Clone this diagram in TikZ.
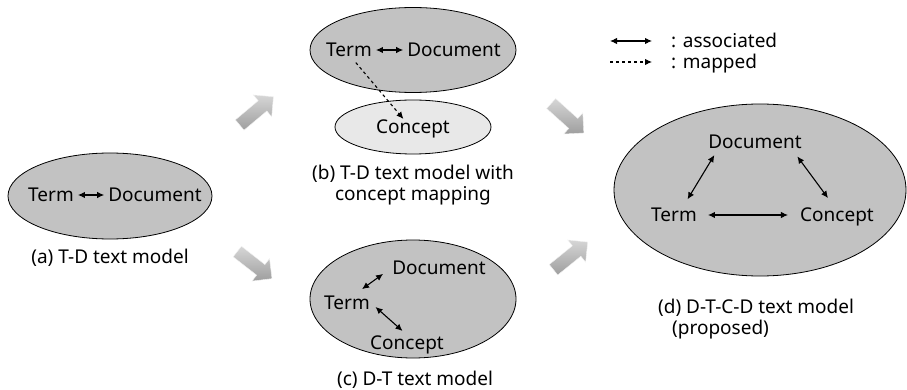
\documentclass[tikz,border=0pt]{standalone}
\usepackage{fontspec}
\setmainfont{Noto Sans}
\usepackage{tikz}
\usetikzlibrary{arrows.meta}
\usetikzlibrary{shapes}

\begin{document}
\begin{tikzpicture}[x=1pt,y=-1pt,>={Latex[length=7pt,width=6.5pt]},
                    font=\fontsize{19}{21}\selectfont]
\tikzstyle{model}=[draw,line width=0.8pt,ellipse,fill=black!24,inner sep=0pt]
\tikzstyle{word}=[inner sep=1pt,text depth=0pt]
\tikzstyle{caption}=[inner sep=0pt,align=center]
\tikzstyle{assoc}=[<->,line width=1.1pt]
\tikzstyle{mapped}=[->,line width=1.1pt,dashed]
\tikzstyle{flow}=[single arrow,single arrow head extend=7.5pt,
                  minimum height=44pt,inner xsep=0pt,inner ysep=6.5pt,
                  top color=black!16,bottom color=black!38,draw=black!5]
\useasboundingbox (0,0) rectangle (907,390);

% (a) T-D
\path
node[model,minimum width=204pt,minimum height=86pt] (TD) at (110,196) {}
(TD.center) ++ (-59,-1) node[word] (TDt) {Term}
(TD.center) ++ (45,-1) node[word] (TDd) {Document}
(TD.center) ++ (0,62) node[caption] (TDcap) {(a) T-D text model};

% (b) T-D with concept mapping
\path
node[model,minimum width=206pt,minimum height=85pt] (TDM) at (413,50) {}
(TDM.center) ++ (-64,0) node[word] (TDMt) {Term}
(TDM.center) ++ (41,0) node[word] (TDMd) {Document}
(TDM.center) ++ (0,77) node[model,fill=black!9,minimum width=156pt,
                            minimum height=54pt] (TDMc) {}
(TDMc.center) node[word] (TDMcc) {Concept}
(TDM.center) ++ (0,135) node[caption] (TDMcap)
     {(b) T-D text model with\\concept mapping};

% (c) D-T
\path
node[model,minimum width=206pt,minimum height=118pt] (DT) at (413,299) {}
(DT.center) ++ (26,-31) node[word] (DTd) {Document}
(DT.center) ++ (-66,4) node[word] (DTt) {Term}
(DT.center) ++ (-6,44) node[word] (DTc) {Concept}
(DT.center) ++ (2,81) node[caption] (DTcap) {(c) D-T text model};

% (d) D-T-C-D
\path
node[model,minimum width=292pt,minimum height=172pt] (DTCD) at (760,190) {}
(DTCD.center) ++ (-5,-48) node[word] (DTCDd) {Document}
(DTCD.center) ++ (-86,25) node[word] (DTCDt) {Term}
(DTCD.center) ++ (77,25) node[word] (DTCDc) {Concept}
(DTCD.center) ++ (-102,129) node[caption,anchor=west,align=left] (DTCDcap)
     {(d) D-T-C-D text model\\\hspace*{14pt}(proposed)};

% flow arrows
\path
node[flow,rotate=40] (F1) at (254,113) {}
node[flow,rotate=-38] (F2) at (252,263) {}
node[flow,rotate=-42] (F3) at (565,116) {}
node[flow,rotate=39] (F4) at (568,258) {};

% legend
\path
coordinate (L1a) at (610,41) coordinate (L1b) at (652,41)
coordinate (L2a) at (610,62) coordinate (L2b) at (652,62)
(L1b) ++ (18,-1) node[word,anchor=west] (L1) {: associated}
(L2b) ++ (18,-1) node[word,anchor=west] (L2) {: mapped};

\draw[assoc] (L1a) -- (L1b);
\draw[mapped] (L2a) -- (L2b);

\path (TDt) edge[assoc,shorten <=3pt,shorten >=3pt] (TDd)
      (TDMt) edge[assoc,shorten <=3pt,shorten >=3pt] (TDMd)
      (TDMt.-70) edge[mapped,shorten <=6pt] (TDMcc.140)
      (DTt.49) edge[assoc,shorten <=10pt,shorten >=10pt] (DTd.west)
      (DTt.east) edge[assoc,shorten <=6pt,shorten >=6pt] (DTc.north)
      (DTCDt.42) edge[assoc,shorten <=9pt,shorten >=6pt] (DTCDd.192)
      (DTCDd.348) edge[assoc,shorten <=8pt,shorten >=11pt] (DTCDc.107)
      (DTCDt) edge[assoc,shorten <=10pt,shorten >=11pt] (DTCDc);
\end{tikzpicture}
\end{document}
